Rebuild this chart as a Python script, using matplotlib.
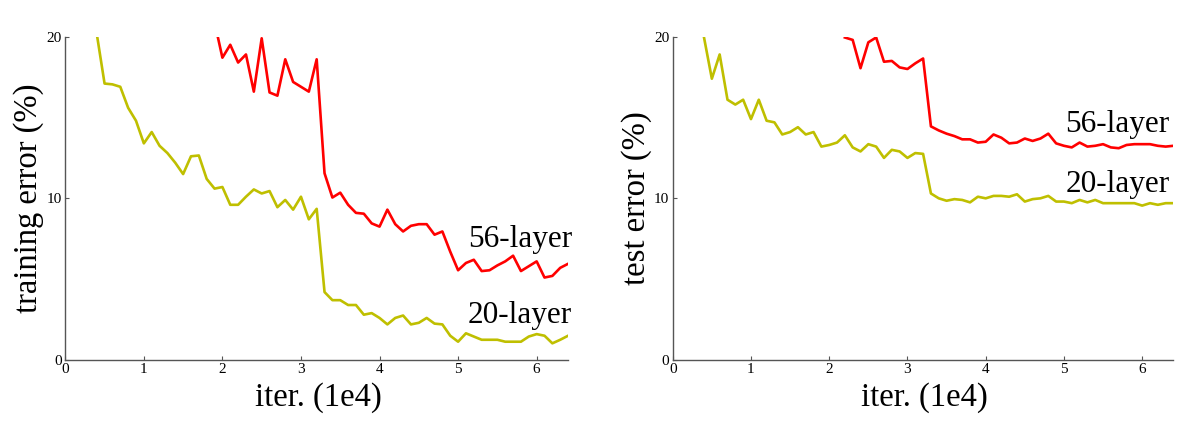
import matplotlib
matplotlib.use('Agg')
import matplotlib.pyplot as plt
import numpy as np

# iterations in units of 1e4, one point every 1000 iterations
iters_20 = np.arange(4, 65) / 10.0
iters_56_train = np.arange(19, 65) / 10.0
iters_56_test = np.arange(22, 65) / 10.0

train_20 = [20.2, 17.1, 17.05, 16.9, 15.6, 14.8, 13.4, 14.1, 13.25, 12.8,
            12.2, 11.5, 12.6, 12.65, 11.2, 10.6, 10.7, 9.6, 9.6, 10.1,
            10.55, 10.3, 10.45, 9.45, 9.9, 9.3, 10.1, 8.7, 9.35, 4.2,
            3.7, 3.7, 3.4, 3.4, 2.8, 2.9, 2.6, 2.2, 2.6, 2.75,
            2.2, 2.3, 2.6, 2.25, 2.2, 1.5, 1.13, 1.65, 1.45, 1.25,
            1.25, 1.25, 1.13, 1.13, 1.13, 1.45, 1.6, 1.5, 1.03, 1.25,
            1.5]
train_56 = [20.9, 18.7, 19.5, 18.4, 18.9, 16.6, 19.9, 16.55, 16.35, 18.6,
            17.2, 16.9, 16.6, 18.6, 11.55, 10.05, 10.35, 9.6, 9.1, 9.05,
            8.45, 8.25, 9.3, 8.4, 7.95, 8.3, 8.4, 8.4, 7.75, 7.95,
            6.7, 5.55, 6.0, 6.2, 5.5, 5.55, 5.85, 6.1, 6.45, 5.5,
            5.8, 6.1, 5.1, 5.2, 5.7, 5.95]
test_20 = [19.95, 17.4, 18.9, 16.1, 15.8, 16.1, 14.9, 16.1, 14.8, 14.7,
           13.95, 14.1, 14.4, 13.95, 14.1, 13.2, 13.3, 13.45, 13.9, 13.15,
           12.9, 13.35, 13.2, 12.5, 13.0, 12.9, 12.5, 12.8, 12.75, 10.3,
           10.0, 9.85, 9.95, 9.9, 9.75, 10.1, 10.0, 10.15, 10.15, 10.1,
           10.25, 9.8, 9.95, 10.0, 10.15, 9.8, 9.8, 9.7, 9.9, 9.75,
           9.9, 9.7, 9.7, 9.7, 9.7, 9.7, 9.55, 9.7, 9.6, 9.7,
           9.7]
test_56 = [19.95, 19.8, 18.05, 19.65, 19.95, 18.45, 18.5, 18.1, 18.0, 18.35,
           18.65, 14.45, 14.2, 14.0, 13.85, 13.65, 13.65, 13.45, 13.5, 13.95,
           13.75, 13.4, 13.45, 13.7, 13.55, 13.7, 14.0, 13.4, 13.25, 13.15,
           13.45, 13.2, 13.25, 13.35, 13.15, 13.1, 13.3, 13.35, 13.35, 13.35,
           13.25, 13.2, 13.25]

x_ticks = [0, 1, 2, 3, 4, 5, 6]
y_ticks = [0, 10, 20]

col_20 = '#bfbf00'
col_56 = '#ff0000'
serif = 'Liberation Serif'


def style_axes(ax, ylabel):
    ax.set_xlim(0, 6.4)
    ax.set_ylim(0, 20)
    ax.set_xticks(x_ticks)
    ax.set_yticks(y_ticks)
    ax.spines['top'].set_visible(False)
    ax.spines['right'].set_visible(False)
    for s in ['left', 'bottom']:
        ax.spines[s].set_color('#555555')
        ax.spines[s].set_linewidth(1.0)
    ax.tick_params(direction='in', length=3, width=0.8, color='#555555',
                   labelsize=11, pad=2.5)
    for lab in ax.get_xticklabels() + ax.get_yticklabels():
        lab.set_family(serif)
    ax.set_xlabel('iter. (1e4)', family=serif, fontsize=23.5)
    ax.set_ylabel(ylabel, family=serif, fontsize=23.5)
    ax.xaxis.set_label_coords(0.503, -0.068)
    ax.xaxis.label.set_va('top')
    ax.yaxis.set_label_coords(-0.042, 0.5)


def main():
    fig = plt.figure(figsize=(12, 4.24), dpi=100)
    ax1 = fig.add_axes([0.0544, 0.151, 0.419, 0.7625])
    ax2 = fig.add_axes([0.5606, 0.151, 0.4173, 0.7625])

    ax1.plot(iters_20, train_20, color=col_20, lw=1.9)
    ax1.plot(iters_56_train, train_56, color=col_56, lw=1.9)
    style_axes(ax1, 'training error (%)')
    ax1.text(6.45, 7.0, '56-layer', family=serif, fontsize=22.5,
             ha='right', va='baseline')
    ax1.text(6.45, 2.3, '20-layer', family=serif, fontsize=22.5,
             ha='right', va='baseline')

    ax2.plot(iters_20, test_20, color=col_20, lw=1.9)
    ax2.plot(iters_56_test, test_56, color=col_56, lw=1.9)
    style_axes(ax2, 'test error (%)')
    ax2.text(6.35, 14.1, '56-layer', family=serif, fontsize=22.5,
             ha='right', va='baseline')
    ax2.text(6.35, 10.4, '20-layer', family=serif, fontsize=22.5,
             ha='right', va='baseline')

    plt.savefig('out.png', dpi=100)


if __name__ == "__main__":
    main()
